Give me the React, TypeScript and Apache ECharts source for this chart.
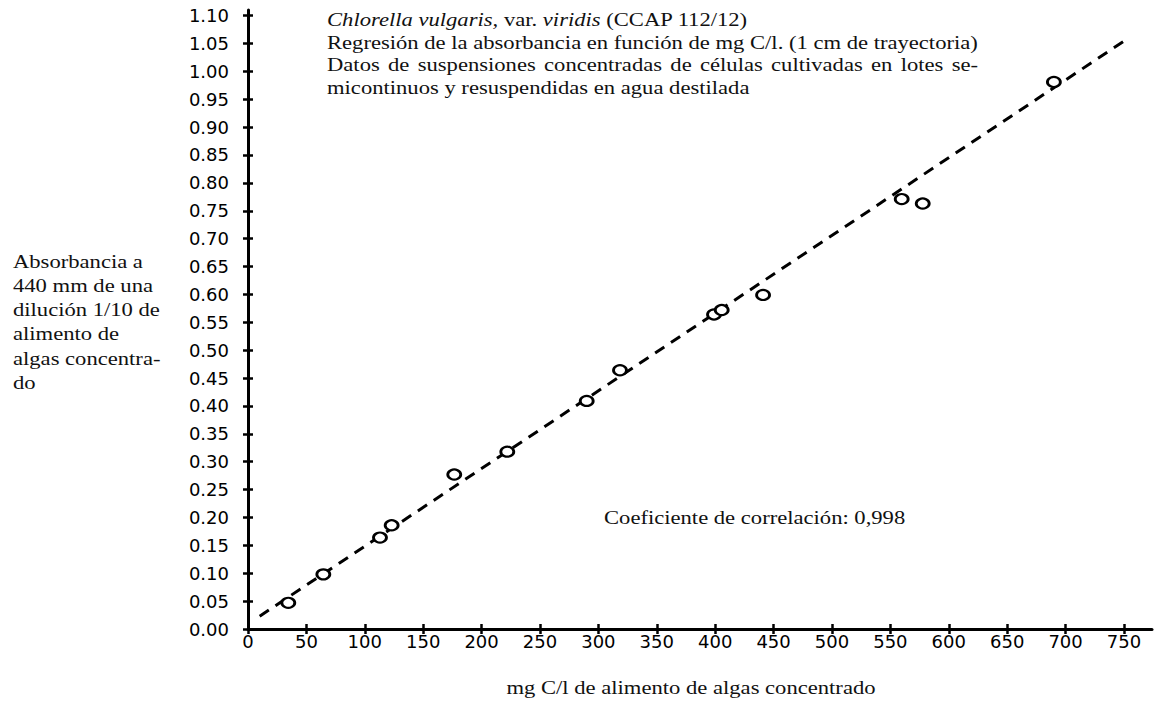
import React, { useEffect, useRef } from 'react';
import * as echarts from 'echarts';

// Data
const concentration = [34.5, 64.5, 113, 123, 176.6, 222, 290, 318.5, 399, 405.6, 441, 559.7, 577.7, 690];
const absorbance = [0.047, 0.098, 0.164, 0.186, 0.277, 0.318, 0.409, 0.464, 0.564, 0.572, 0.599, 0.771, 0.763, 0.981];
const regressionX = [10, 752];
const regressionY = [0.023, 1.057];

const xTickValues = [0, 50, 100, 150, 200, 250, 300, 350, 400, 450, 500, 550, 600, 650, 700, 750];
const yTickValues = [0, 0.05, 0.1, 0.15, 0.2, 0.25, 0.3, 0.35, 0.4, 0.45, 0.5, 0.55, 0.6, 0.65, 0.7, 0.75, 0.8, 0.85, 0.9, 0.95, 1.0, 1.05, 1.1];

const noteTitle = '{i|Chlorella vulgaris,} var. {i|viridis} (CCAP 112/12)';
const noteLines = [
  'Regresión de la absorbancia en función de mg C/l. (1 cm de trayectoria)',
  'Datos de suspensiones concentradas de células cultivadas en lotes se-',
  'micontinuos y resuspendidas en agua destilada',
];
const correlationText = 'Coeficiente de correlación: 0,998';
const xTitle = 'mg C/l de alimento de algas concentrado';
const yTitleLines = ['Absorbancia a', '440 mm de una', 'dilución 1/10 de', 'alimento de', 'algas concentra-', 'do'];

export default function App() {
  const ref = useRef<HTMLDivElement>(null);
  useEffect(() => {
    document.body.style.margin = '0';
    const chart = echarts.init(ref.current!, null, { renderer: 'svg' });
    const SERIF = '"Liberation Serif", "Times New Roman", serif';
    const SANS = '"DejaVu Sans", sans-serif';
    const FS = 19;
    const SX = 1.19;

    const ctx = document.createElement('canvas').getContext('2d')!;
    ctx.font = `${FS}px "Liberation Serif"`;
    const fullW = ctx.measureText(noteLines[0]).width;
    const words = noteLines[1].split(' ');
    const wordW = words.map((w) => ctx.measureText(w).width);
    const gap = (fullW - wordW.reduce((a, b) => a + b, 0)) / (words.length - 1);

    const serifStyle = (text: string, extra: any = {}) => ({
      text,
      fontSize: FS,
      fontFamily: SERIF,
      fill: '#111',
      verticalAlign: 'middle',
      ...extra,
    });

    const lineMid = [20, 42.5, 65, 87.5];
    let cx = 0;
    const justified = words.map((w, i) => {
      const el = { type: 'text', x: cx, y: lineMid[2], style: serifStyle(w) };
      cx += wordW[i] + gap;
      return el;
    });

    const yMid0 = 261.5;
    const yStep = 24.2;

    const graphic: any[] = [
      {
        type: 'group',
        x: 327,
        y: 0,
        scaleX: SX,
        children: [
          {
            type: 'text',
            x: 0,
            y: lineMid[0],
            style: serifStyle(noteTitle, { rich: { i: { fontStyle: 'italic', fontSize: FS, fontFamily: SERIF, fill: '#111' } } }),
          },
          { type: 'text', x: 0, y: lineMid[1], style: serifStyle(noteLines[0]) },
          ...justified,
          { type: 'text', x: 0, y: lineMid[3], style: serifStyle(noteLines[2]) },
        ],
      },
      { type: 'text', x: 604, y: 517.5, scaleX: SX, style: serifStyle(correlationText) },
      { type: 'text', x: 691, y: 688, scaleX: SX, style: serifStyle(xTitle, { align: 'center' }) },
      ...yTitleLines.map((t, i) => ({
        type: 'text',
        x: 13,
        y: yMid0 + i * yStep,
        scaleX: SX,
        style: serifStyle(t),
      })),
    ];

    const axisBase = {
      type: 'value',
      gridIndex: 0,
    };

    chart.setOption({
      animation: false,
      backgroundColor: '#fff',
      grid: { left: 248, right: 3, top: 10, bottom: 75, containLabel: false },
      xAxis: [
        {
          ...axisBase,
          min: 0,
          max: 774,
          position: 'bottom',
          splitLine: { show: false },
          axisLine: { show: true, onZero: false, lineStyle: { color: '#000', width: 3 } },
          axisTick: { show: true, inside: false, length: 5, customValues: xTickValues, lineStyle: { color: '#000', width: 2.5 } },
          axisLabel: {
            show: true,
            customValues: xTickValues,
            margin: 3,
            fontSize: 18,
            fontFamily: SANS,
            color: '#000',
            formatter: (v: number) => String(v),
          },
        },
        {
          ...axisBase,
          min: 0,
          max: 774,
          position: 'bottom',
          splitLine: { show: false },
          axisLine: { show: false, onZero: false },
          axisTick: { show: true, inside: true, length: 5, customValues: xTickValues, lineStyle: { color: '#000', width: 2.5 } },
          axisLabel: { show: false },
        },
      ],
      yAxis: [
        {
          ...axisBase,
          min: 0,
          max: 1.11,
          position: 'left',
          splitLine: { show: false },
          axisLine: { show: true, onZero: false, lineStyle: { color: '#000', width: 3 } },
          axisTick: { show: true, inside: false, length: 5, customValues: yTickValues, lineStyle: { color: '#000', width: 2.5 } },
          axisLabel: {
            show: true,
            customValues: yTickValues,
            margin: 19,
            fontSize: 18,
            fontFamily: SANS,
            color: '#000',
            formatter: (v: number) => v.toFixed(2),
          },
        },
        {
          ...axisBase,
          min: 0,
          max: 1.11,
          position: 'left',
          splitLine: { show: false },
          axisLine: { show: false, onZero: false },
          axisTick: { show: true, inside: true, length: 5, customValues: yTickValues, lineStyle: { color: '#000', width: 2.5 } },
          axisLabel: { show: false },
        },
      ],
      series: [
        {
          type: 'line',
          xAxisIndex: 0,
          yAxisIndex: 0,
          data: regressionX.map((x, i) => [x, regressionY[i]]),
          showSymbol: false,
          symbol: 'none',
          lineStyle: { color: '#000', width: 3, type: [11, 8] },
          silent: true,
          z: 2,
        },
        {
          type: 'scatter',
          xAxisIndex: 0,
          yAxisIndex: 0,
          data: concentration.map((x, i) => [x, absorbance[i]]),
          symbol: 'circle',
          symbolSize: [13, 10],
          itemStyle: { color: '#fff', borderColor: '#000', borderWidth: 2.5, opacity: 1 },
          z: 3,
        },
      ],
      graphic,
    });
    return () => chart.dispose();
  }, []);
  return <div ref={ref} style={{ width: 1155, height: 704 }} />;
}
